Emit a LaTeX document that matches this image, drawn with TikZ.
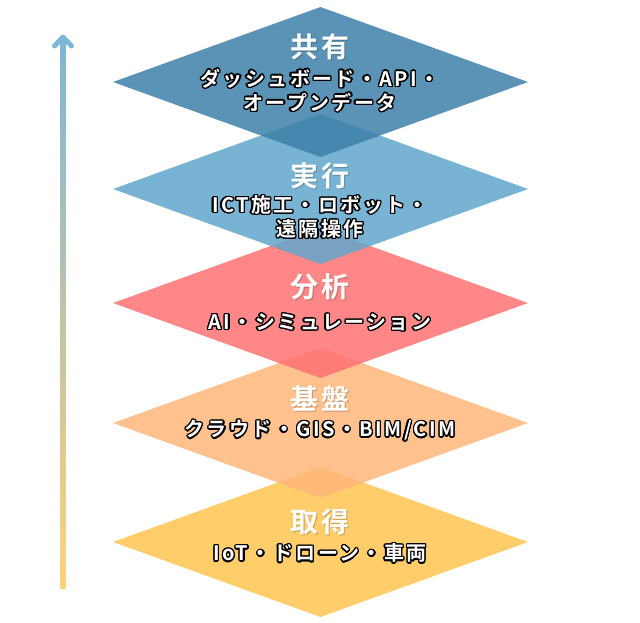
\documentclass[tikz,border=0pt]{standalone}
\usepackage{fontspec}
\usepackage{contour}
\newfontfamily\jpb{Noto Sans CJK JP Bold}
\contourlength{1.3pt}
\contournumber{20}
\definecolor{cA}{HTML}{3E80A9}
\definecolor{cB}{HTML}{62A6CC}
\definecolor{cC}{HTML}{FF7272}
\definecolor{cD}{HTML}{FFB77B}
\definecolor{cE}{HTML}{FFC651}
\definecolor{arrTop}{HTML}{7DB6D6}
\definecolor{arrBot}{HTML}{FFD27A}
\tikzset{
  layer/.style={fill=#1, fill opacity=0.85},
  ttl/.style={text=white, font=\jpb\fontsize{28}{30}\selectfont\addfontfeature{LetterSpace=14}, inner sep=0pt},
  ttlsh/.style={text=black, text opacity=0.22, font=\jpb\fontsize{28}{30}\selectfont\addfontfeature{LetterSpace=14}, inner sep=0pt},
  sub/.style={text=white, font=\jpb\fontsize{20}{24}\selectfont\addfontfeature{LetterSpace=12}, align=center, inner sep=0pt},
}
\newcommand\dia[2]{\fill[layer=#2] (113,#1) -- (320.5,#1-75) -- (528,#1) -- (320.5,#1+75) -- cycle;}
\newcommand\ttlnode[4]{\node[ttlsh] at (#3+1,#4+1.2) {#2};\node[ttl] (#1) at (#3,#4) {#2};}
\newcommand\ol[1]{\contour{black}{#1}}
\begin{document}
\begin{tikzpicture}[x=1pt,y=-1pt]
\useasboundingbox (0,0) rectangle (640,622);
% layers, bottom first
\dia{542}{cE}
\dia{423}{cD}
\dia{303}{cC}
\dia{189}{cB}
\dia{82}{cA}
% arrow
\coordinate (abot) at (63,588);
\coordinate (atop) at (63,37);
\shade[top color=arrTop, bottom color=arrBot] (60.5,40) rectangle (65.5,588);
\draw[arrTop, line width=5pt, line cap=round, line join=round] (54.5,46) -- (atop) -- (71.5,46);
% titles
\ttlnode{t1}{共有}{320}{47}
\ttlnode{t2}{実行}{320}{176}
\ttlnode{t3}{分析}{320}{287}
\ttlnode{t4}{基盤}{320}{398}
\ttlnode{t5}{取得}{320}{522}
% subtitles
\node[sub] (s1) at (320,91) {\ol{ダッシュボード・API・}\\\ol{オープンデータ}};
\node[sub] (s2) at (320,217.5) {\ol{ICT施工・ロボット・}\\\ol{遠隔操作}};
\node[sub] (s3) at (320,323) {\ol{AI・シミュレーション}};
\node[sub] (s4) at (320,431) {\ol{クラウド・GIS・BIM/CIM}};
\node[sub] (s5) at (320,554) {\ol{IoT・ドローン・車両}};
\end{tikzpicture}
\end{document}
